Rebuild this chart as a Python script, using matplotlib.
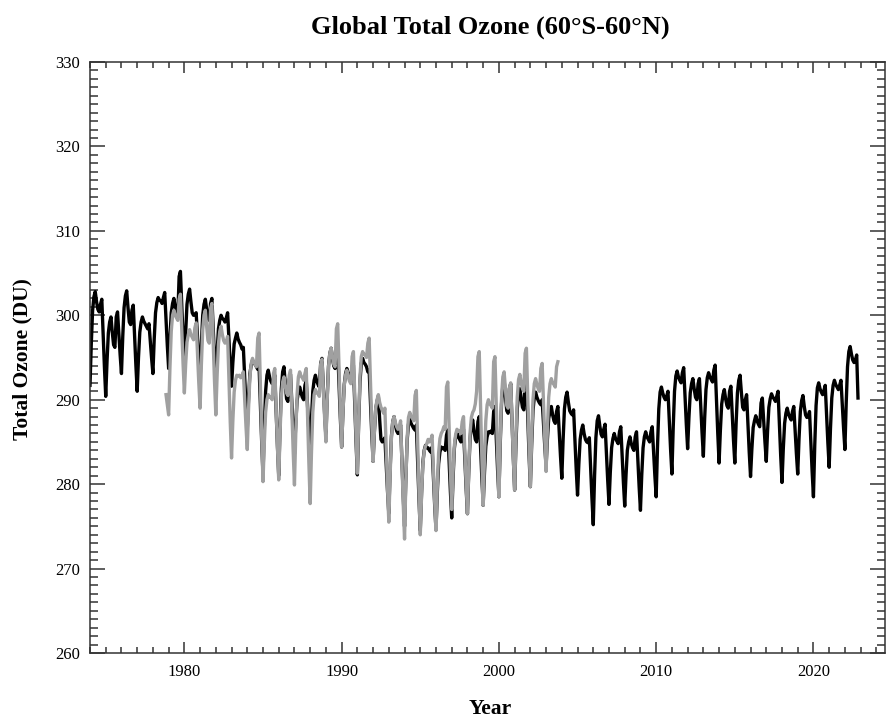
import matplotlib
matplotlib.use("Agg")
import matplotlib.pyplot as plt
import numpy as np
from matplotlib.ticker import MultipleLocator

# monthly 60S-60N total ozone (DU), black series starts Jan 1974
black_1974_1983 = [
    291.7, 296.7, 300.6, 302.2, 302.8, 301.6, 300.7, 300.4, 301.3, 301.9, 297.9, 293.9,
    290.4, 294.6, 297.9, 299.2, 299.8, 298.0, 296.5, 296.2, 299.8, 300.4, 297.8, 295.3,
    293.1, 297.5, 300.9, 302.3, 302.9, 300.9, 299.2, 298.9, 300.6, 301.2, 297.6, 294.1,
    291.0, 295.0, 298.0, 299.2, 299.8, 299.3, 299.0, 298.7, 298.4, 299.0, 296.9, 294.9,
    293.1, 297.2, 300.3, 301.5, 302.1, 301.8, 301.7, 301.4, 302.1, 302.7, 299.5, 296.4,
    293.7, 297.4, 300.3, 301.4, 302.0, 301.0, 300.3, 300.0, 304.6, 305.2, 301.2, 297.3,
    293.9, 298.0, 301.3, 302.5, 303.1, 301.6, 300.3, 300.0, 300.1, 300.3, 297.5, 294.7,
    292.3, 296.6, 300.0, 301.3, 301.9, 300.7, 299.7, 299.4, 301.4, 302.0, 298.5, 295.0,
    292.0, 295.6, 298.4, 299.4, 300.0, 299.6, 299.5, 299.2, 299.7, 300.3, 297.3, 294.2,
    291.6, 294.4, 296.6, 297.3, 297.9, 297.2, 296.8, 296.5, 296.0, 296.2, 292.8, 289.4,
]
black_1984_1993 = [
    286.5, 290.2, 293.1, 294.1, 294.7, 294.3, 294.2, 293.9, 293.6, 294.0, 289.5, 285.0,
    281.1, 286.7, 291.0, 292.9, 293.5, 292.7, 292.2, 291.9, 292.3, 292.9, 288.7, 284.6,
    281.0, 286.8, 291.3, 293.3, 293.9, 291.9, 290.1, 289.8, 292.4, 293.0, 289.7, 286.4,
    283.6, 287.2, 289.9, 290.9, 291.5, 290.8, 290.3, 290.0, 291.7, 292.3, 289.3, 286.2,
    283.6, 287.8, 291.0, 292.3, 292.9, 292.2, 291.8, 291.5, 294.3, 294.9, 291.6, 288.4,
    285.6, 290.3, 294.0, 295.5, 296.1, 294.9, 294.0, 293.7, 295.3, 295.9, 291.9, 287.9,
    284.4, 288.6, 291.8, 293.1, 293.7, 293.2, 293.0, 292.7, 293.5, 294.1, 289.6, 285.0,
    281.1, 287.3, 292.1, 294.3, 294.9, 294.4, 294.2, 293.9, 293.3, 293.5, 289.7, 285.9,
    282.7, 286.2, 288.9, 289.8, 290.4, 287.7, 285.3, 285.0, 285.2, 285.5, 282.4, 279.2,
    276.5, 281.7, 285.7, 287.4, 288.0, 287.0, 286.3, 286.0, 286.4, 287.0, 282.8, 278.6,
]
black_1994_2003 = [
    275.0, 280.7, 285.2, 287.1, 287.7, 287.2, 286.9, 286.6, 286.4, 287.0, 282.6, 278.3,
    274.5, 279.0, 282.6, 284.0, 284.6, 284.3, 284.3, 284.0, 283.8, 284.4, 281.0, 277.5,
    274.6, 279.0, 282.4, 283.8, 284.4, 284.2, 284.3, 284.0, 285.8, 286.4, 282.8, 279.1,
    276.0, 280.6, 284.2, 285.6, 286.2, 285.6, 285.3, 285.0, 285.9, 286.5, 283.0, 279.5,
    276.5, 281.5, 285.4, 287.0, 287.6, 286.3, 285.3, 285.0, 287.4, 288.0, 284.3, 280.7,
    277.5, 281.4, 284.5, 285.6, 286.2, 286.1, 286.3, 286.0, 288.6, 289.2, 285.5, 281.7,
    278.5, 284.7, 289.5, 291.7, 292.3, 290.4, 288.7, 288.4, 291.3, 291.9, 287.5, 283.1,
    279.3, 284.7, 288.9, 290.7, 291.3, 290.1, 289.1, 288.8, 291.9, 292.5, 288.0, 283.5,
    279.7, 284.7, 288.7, 290.3, 290.9, 290.3, 289.9, 289.6, 289.4, 290.0, 287.2, 284.5,
    282.1, 285.3, 287.8, 288.6, 289.2, 288.2, 287.5, 287.2, 288.6, 289.2, 286.2, 283.3,
]
black_2004_2013 = [
    280.7, 285.3, 288.9, 290.3, 290.9, 289.7, 288.7, 288.4, 288.2, 288.8, 285.3, 281.7,
    278.7, 282.4, 285.3, 286.4, 287.0, 286.0, 285.3, 285.0, 284.9, 285.5, 281.9, 278.3,
    275.2, 281.0, 285.5, 287.5, 288.1, 286.9, 285.9, 285.6, 286.5, 287.1, 283.8, 280.5,
    277.6, 281.4, 284.3, 285.4, 286.0, 285.4, 285.1, 284.8, 286.2, 286.8, 283.5, 280.2,
    277.4, 281.1, 284.0, 285.0, 285.6, 284.8, 284.3, 284.0, 285.6, 286.2, 282.9, 279.7,
    276.9, 281.1, 284.3, 285.6, 286.2, 285.6, 285.3, 285.0, 286.2, 286.8, 283.9, 281.0,
    278.5, 284.4, 288.9, 290.9, 291.5, 290.8, 290.3, 290.0, 290.4, 291.0, 287.6, 284.1,
    281.2, 286.7, 291.0, 292.8, 293.4, 292.7, 292.3, 292.0, 293.2, 293.8, 290.4, 287.1,
    284.2, 287.9, 290.8, 291.9, 292.5, 291.3, 290.3, 290.0, 291.9, 292.5, 289.3, 286.1,
    283.3, 287.8, 291.2, 292.6, 293.2, 292.7, 292.4, 292.1, 293.5, 294.1, 290.0, 286.0,
]
black_2014_2022 = [
    282.5, 286.4, 289.5, 290.6, 291.2, 290.1, 289.3, 289.0, 291.0, 291.6, 288.4, 285.2,
    282.5, 287.2, 290.8, 292.3, 292.9, 290.9, 289.1, 288.8, 290.0, 290.6, 287.2, 283.8,
    280.9, 284.1, 286.7, 287.5, 288.1, 287.5, 287.1, 286.8, 289.6, 290.2, 287.6, 285.0,
    282.7, 286.3, 289.1, 290.1, 290.7, 290.3, 290.1, 289.8, 290.4, 291.0, 287.2, 283.4,
    280.2, 284.2, 287.2, 288.4, 289.0, 288.3, 287.9, 287.6, 288.6, 289.2, 286.4, 283.6,
    281.2, 285.4, 288.6, 289.9, 290.5, 289.2, 288.2, 287.9, 288.0, 288.6, 285.1, 281.5,
    278.5, 284.6, 289.3, 291.4, 292.0, 291.3, 290.9, 290.6, 291.1, 291.7, 288.3, 284.9,
    282.0, 286.6, 290.2, 291.7, 292.3, 291.8, 291.5, 291.2, 291.7, 292.3, 289.4, 286.6,
    284.1, 289.6, 293.9, 295.7, 296.3, 295.4, 294.7, 294.4, 294.7, 295.3, 290.2,
]

# grey series starts Nov 1978, ends Oct 2003
grey_1978_1988 = [
    290.6, 289.4,
    288.2, 293.8, 298.1, 300.0, 300.6, 300.0, 299.7, 299.4, 301.9, 302.5, 298.4, 294.3,
    290.8, 294.2, 296.8, 297.7, 298.3, 297.7, 297.4, 297.1, 298.5, 299.1, 295.6, 292.0,
    289.0, 294.2, 298.3, 300.0, 300.6, 298.7, 297.0, 296.7, 300.8, 301.4, 296.8, 292.2,
    288.2, 292.9, 296.6, 298.1, 298.7, 297.7, 297.0, 296.7, 296.9, 297.5, 292.5, 287.4,
    283.1, 287.5, 290.9, 292.3, 292.9, 292.8, 292.9, 292.6, 292.7, 293.3, 290.1, 286.9,
    284.1, 289.0, 292.7, 294.3, 294.9, 294.4, 294.2, 293.9, 297.3, 297.9, 291.7, 285.6,
    280.3, 284.9, 288.5, 290.0, 290.6, 290.3, 290.3, 290.0, 293.1, 293.7, 289.1, 284.5,
    280.5, 286.0, 290.3, 292.1, 292.7, 291.6, 290.8, 290.5, 292.9, 293.5, 288.7, 284.0,
    279.9, 285.9, 290.6, 292.7, 293.3, 292.8, 292.6, 292.3, 293.1, 293.7, 288.1, 282.5,
    277.7, 283.8, 288.5, 290.6, 291.2, 290.8, 290.7, 290.4, 294.2, 294.8, 291.4, 287.9,
]
grey_1989_1996 = [
    285.0, 290.0, 293.9, 295.5, 296.1, 295.0, 294.2, 293.9, 298.4, 299.0, 293.9, 288.8,
    284.4, 288.5, 291.7, 292.9, 293.5, 292.7, 292.2, 291.9, 295.1, 295.7, 290.7, 285.6,
    281.3, 287.8, 292.8, 295.1, 295.7, 295.4, 295.3, 295.0, 296.7, 297.3, 292.2, 287.1,
    282.7, 286.3, 289.0, 290.0, 290.6, 289.7, 289.1, 288.8, 288.4, 289.0, 284.3, 279.6,
    275.5, 281.1, 285.5, 287.4, 288.0, 287.3, 286.8, 286.5, 286.9, 287.5, 282.6, 277.7,
    273.5, 280.3, 285.5, 287.9, 288.5, 288.0, 287.8, 287.5, 290.5, 291.1, 285.1, 279.1,
    274.0, 278.7, 282.4, 283.9, 284.5, 284.8, 285.3, 285.0, 285.2, 285.8, 281.8, 277.9,
    274.5, 279.7, 283.7, 285.4, 286.0, 286.3, 286.8, 286.5, 291.5, 292.1, 286.8, 281.5,
]
grey_1997_2003 = [
    277.0, 281.3, 284.6, 285.9, 286.5, 286.3, 286.3, 286.0, 287.4, 288.0, 284.0, 280.0,
    276.5, 281.9, 286.1, 287.9, 288.5, 288.8, 289.5, 291.0, 295.1, 295.7, 289.3, 283.0,
    277.5, 283.1, 287.5, 289.4, 290.0, 289.5, 289.3, 289.0, 294.5, 295.1, 289.3, 283.5,
    278.5, 285.2, 290.3, 292.7, 293.3, 291.2, 289.3, 289.0, 291.4, 292.0, 287.6, 283.1,
    279.3, 285.5, 290.3, 292.4, 293.0, 292.0, 291.3, 291.0, 295.5, 296.1, 290.4, 284.6,
    279.7, 285.5, 290.0, 291.9, 292.5, 291.8, 291.3, 291.0, 293.7, 294.3, 289.8, 285.3,
    281.5, 286.5, 290.3, 291.9, 292.5, 292.0, 291.8, 291.5, 293.9, 294.5,
]

black_start = 1974.0
grey_start = 1978 + 10 / 12.0

black = np.array(black_1974_1983 + black_1984_1993 + black_1994_2003
                 + black_2004_2013 + black_2014_2022)
grey = np.array(grey_1978_1988 + grey_1989_1996 + grey_1997_2003)
t_black = black_start + np.arange(len(black)) / 12.0
t_grey = grey_start + np.arange(len(grey)) / 12.0

plt.rcParams['font.family'] = ['Liberation Serif', 'DejaVu Serif']

fig = plt.figure(figsize=(8.89, 7.19), dpi=100)
ax = fig.add_axes([90 / 889, 1 - 653 / 719, 795 / 889, 591 / 719])

ax.plot(t_black, black, color='black', lw=2.4, solid_joinstyle='round')
ax.plot(t_grey, grey, color='#a0a0a0', lw=2.4, solid_joinstyle='round')

ax.set_xlim(1974.0, 2024.55)
ax.set_ylim(260, 330)

ax.xaxis.set_major_locator(MultipleLocator(10))
ax.xaxis.set_minor_locator(MultipleLocator(1))
ax.yaxis.set_major_locator(MultipleLocator(10))
ax.yaxis.set_minor_locator(MultipleLocator(1))

ax.tick_params(which='both', direction='in', top=True, right=True,
               width=1.1, color='#333333', labelsize=12)
ax.tick_params(axis='x', which='major', length=8, pad=8)
ax.tick_params(axis='x', which='minor', length=4.5)
ax.tick_params(axis='y', which='major', length=11, pad=7)
ax.tick_params(axis='y', which='minor', length=5.5)

for s in ax.spines.values():
    s.set_linewidth(1.1)
    s.set_color('#333333')

fig.text(490 / 889, 1 - 27 / 719, "Global Total Ozone (60°S-60°N)",
         ha='center', va='center', fontsize=19, fontweight='bold')
fig.text(490 / 889, 1 - 709 / 719, "Year",
         ha='center', va='center', fontsize=15.5, fontweight='bold')
fig.text(22 / 889, 1 - 359 / 719, "Total Ozone (DU)", rotation=90,
         ha='center', va='center', fontsize=15.5, fontweight='bold')

fig.savefig("out.png", dpi=100)
